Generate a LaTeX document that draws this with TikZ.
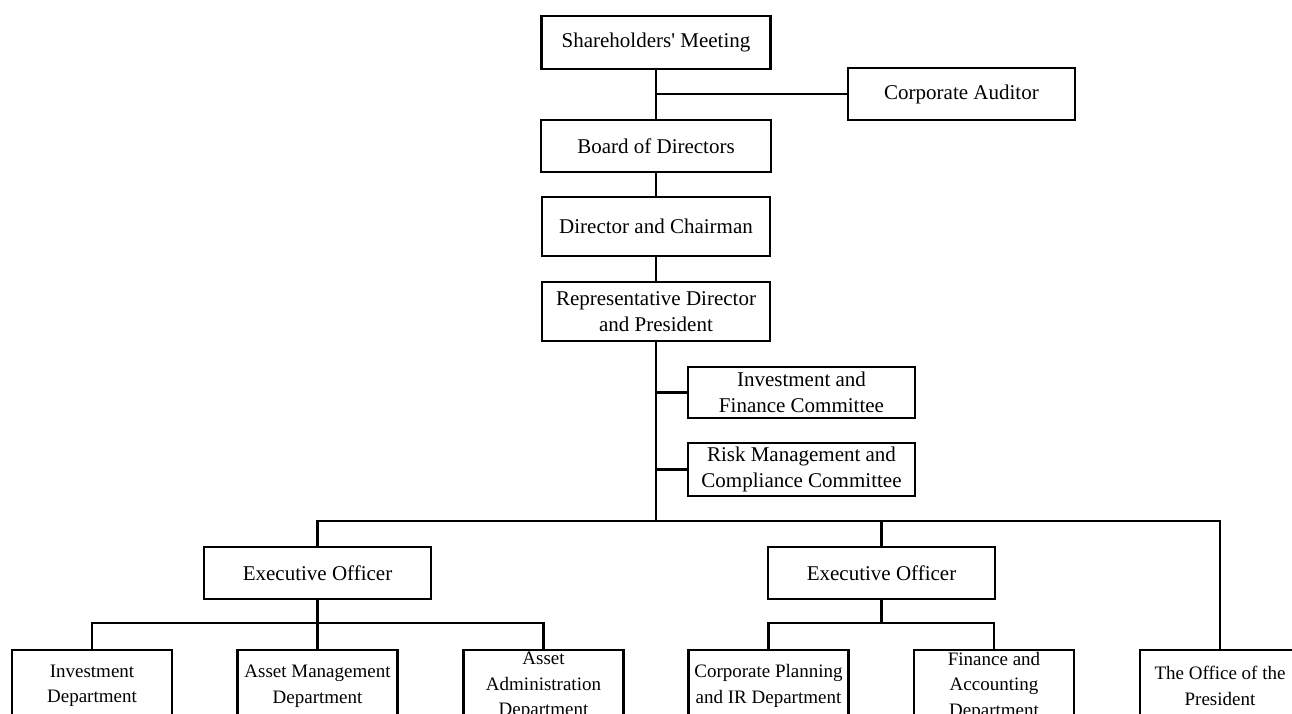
\documentclass[tikz,border=0pt]{standalone}
\usepackage{fontspec}
\setmainfont{Liberation Serif}
\usepackage{tikz}
\usetikzlibrary{positioning}

\begin{document}
\begin{tikzpicture}[x=1pt,y=-1pt]
		\tikzstyle{BoxStyle}=[draw,line width=2.4pt,inner sep=0pt,align=center,
			font=\fontsize{21}{26}\selectfont]
		\tikzstyle{DeptStyle}=[BoxStyle,minimum width=160pt,minimum height=72pt,
			font=\fontsize{19}{25.5}\selectfont]
		\tikzstyle{EdgeStyle}=[line width=2.2pt]
		\useasboundingbox (0,0) rectangle (1292,713);
		\clip (0,0) rectangle (1292,713);
		% top of the chart
		\node[BoxStyle,minimum width=229pt,minimum height=53pt] (SM) at (656,42.5) {Shareholders\textquotesingle\ Meeting};
		\node[BoxStyle,minimum width=227pt,minimum height=52pt] (CA) at (961.5,94) {Corporate Auditor};
		\node[BoxStyle,minimum width=230pt,minimum height=52pt] (BD) at (656,146) {Board of Directors};
		\node[BoxStyle,minimum width=228pt,minimum height=59pt] (DC) at (656,226.5) {Director and Chairman};
		\node[BoxStyle,minimum width=228pt,minimum height=59pt] (RDP) at (656,311.5) {Representative Director\\and President};
		\node[BoxStyle,minimum width=227pt,minimum height=51pt] (IFC) at (801.5,392.5) {Investment and\\Finance Committee};
		\node[BoxStyle,minimum width=227pt,minimum height=53pt] (RMC) at (801.5,469.5) {Risk Management and\\Compliance Committee};
		\coordinate (bus) at (656,521);
		% executive officers
		\node[BoxStyle,minimum width=227pt,minimum height=52pt] (EO1) at (317.5,573) {Executive Officer};
		\node[BoxStyle,minimum width=227pt,minimum height=52pt] (EO2) at (881.5,573) {Executive Officer};
		\coordinate (sub1) at (317.5,623);
		\coordinate (sub2) at (881.5,623);
		% departments
		\node[DeptStyle] (ID) at (92,686) {Investment\\Department};
		\node[DeptStyle] (AMD) at (317.5,686) {Asset Management\\Department};
		\node[DeptStyle] (AAD) at (543.5,686) {Asset\\Administration\\Department};
		\node[DeptStyle] (CPD) at (768.5,686) {Corporate Planning\\and IR Department};
		\node[DeptStyle] (FAD) at (994,686) {Finance and\\Accounting\\Department};
		\node[DeptStyle] (OP) at (1220,686) {The Office of the\\President};
		\draw[EdgeStyle] (SM.south) -- (BD.north);
		\draw[EdgeStyle] (CA.west) -- (CA.west -| SM.south);
		\draw[EdgeStyle] (BD.south) -- (DC.north);
		\draw[EdgeStyle] (DC.south) -- (RDP.north);
		\draw[EdgeStyle] (RDP.south) -- (bus);
		\draw[EdgeStyle] (IFC.west) -- (IFC.west -| RDP.south);
		\draw[EdgeStyle] (RMC.west) -- (RMC.west -| RDP.south);
		\draw[EdgeStyle] (EO1.north) |- (bus) -| (OP.north);
		\draw[EdgeStyle] (EO2.north) -- (EO2.north |- bus);
		\draw[EdgeStyle] (EO1.south) -- (AMD.north);
		\draw[EdgeStyle] (ID.north) |- (sub1) -| (AAD.north);
		\draw[EdgeStyle] (EO2.south) -- (sub2);
		\draw[EdgeStyle] (CPD.north) |- (sub2) -| (FAD.north);
	\end{tikzpicture}
\end{document}
